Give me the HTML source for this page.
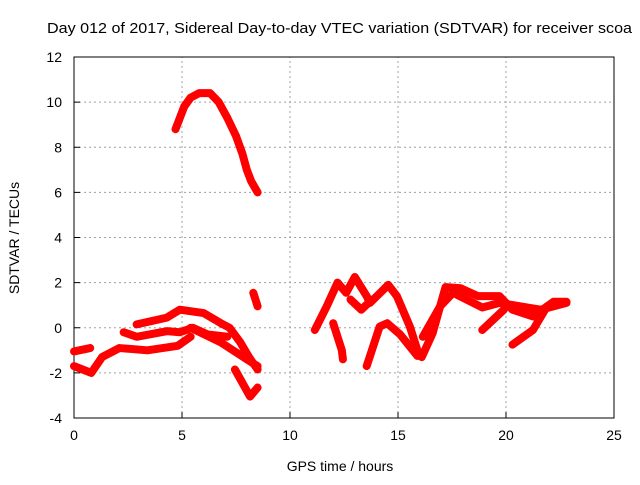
<!DOCTYPE html>
<html><head><meta charset="utf-8"><style>
body{margin:0;background:#fff;}
svg text{font-family:"Liberation Sans",sans-serif;font-size:14px;fill:#000;}
</style></head><body>
<svg id="chart" width="640" height="480" viewBox="0 0 640 480" xmlns="http://www.w3.org/2000/svg">
<rect width="640" height="480" fill="#fff"/>
<text x="47" y="33" textLength="585" lengthAdjust="spacingAndGlyphs" style="font-size:15px">Day 012 of 2017, Sidereal Day-to-day VTEC variation (SDTVAR) for receiver scoa</text>
<g id="grid"></g>
<g id="axes"></g>
<g id="series"></g>
<text x="340" y="471" text-anchor="middle">GPS time / hours</text>
<text transform="translate(19,238) rotate(-90)" text-anchor="middle">SDTVAR / TECUs</text>
</svg>
<script>
const xTicks=[0,5,10,15,20,25];
const yTicks=[-4,-2,0,2,4,6,8,10,12];
const trackArc=[[4.7,8.8],[4.9,9.3],[5.1,9.8],[5.4,10.2],[5.8,10.4],[6.3,10.4],[6.7,10.0],[7.1,9.3],[7.5,8.5],[7.8,7.7],[8.0,7.0],[8.2,6.5],[8.5,6.0]];
const track1=[[5.4,0],[6.8,-0.65],[8.0,-1.4],[8.5,-1.7]];
const track2=[[2.9,0.15],[4.3,0.45],[4.9,0.8],[6.0,0.65],[6.8,0.2],[7.2,0],[7.7,-0.65],[8.1,-1.3],[8.5,-1.85]];
const track3=[[2.3,-0.2],[2.9,-0.4],[4.3,-0.15],[4.9,-0.2],[5.5,0],[6.2,-0.3],[7.1,-0.4]];
const track4=[[0,-1.7],[0.8,-2.0],[1.3,-1.3],[2.1,-0.9],[3.4,-1.0],[4.8,-0.8],[5.4,-0.4]];
const track5=[[0,-1.05],[0.75,-0.9]];
const track6=[[7.45,-1.85],[8.15,-3.05],[8.5,-2.65]];
const track7=[[8.3,1.55],[8.5,0.95]];
const trackR1=[[11.15,-0.1],[11.7,0.95],[12.2,2.0],[12.6,1.55],[13.0,2.25],[13.55,1.4],[13.7,1.1],[14.55,1.9],[14.95,1.4],[15.55,0.05],[15.9,-1.0],[16.1,-1.3],[16.6,-0.25],[17.2,1.8],[17.9,1.75],[18.7,1.4],[19.7,1.4],[20.3,0.8],[21.25,0.5],[22.2,1.15],[22.8,1.15]];
const trackR2=[[12.0,0.2],[12.4,-1.0],[12.45,-1.4]];
const trackR3=[[13.55,-1.7],[14.15,0.05],[14.5,0.2],[15.1,-0.3],[15.9,-1.25]];
const trackR4=[[16.15,-0.4],[16.95,0.95],[17.55,1.55],[18.9,0.9],[19.7,1.1],[21.6,0.8],[22.8,1.1]];
const trackR5=[[18.9,-0.1],[19.9,0.8]];
const trackR6=[[20.3,-0.75],[21.25,-0.1],[21.9,0.95]];
const trackR7=[[12.8,1.25],[13.3,0.8],[13.8,1.25]];
const tracks=[trackArc,track1,track2,track3,track4,track5,track6,track7,trackR1,trackR2,trackR3,trackR4,trackR5,trackR6,trackR7];

const X0=74,X1=614,Y0=418,Y1=57,xmin=0,xmax=25,ymin=-4,ymax=12;
const sx=v=>X0+(v-xmin)/(xmax-xmin)*(X1-X0);
const sy=v=>Y0-(v-ymin)/(ymax-ymin)*(Y0-Y1);
const NS="http://www.w3.org/2000/svg";
function mk(tag,attrs,parent){const e=document.createElementNS(NS,tag);for(const k in attrs)e.setAttribute(k,attrs[k]);parent.appendChild(e);return e;}
const grid=document.getElementById('grid'),axes=document.getElementById('axes'),series=document.getElementById('series');
xTicks.forEach(t=>{
  if(t>xmin&&t<xmax){const l=mk('line',{x1:sx(t),x2:sx(t),y1:Y0,y2:Y1,stroke:'#a0a0a0','stroke-dasharray':'2,3'},grid);
  
  }
  const tk=mk('line',{x1:sx(t),x2:sx(t),y1:Y0,y2:Y0-6,stroke:'#000'},axes);
  
  
  const tx=mk('text',{x:sx(t),y:Y0+22,'text-anchor':'middle'},axes);tx.textContent=t;
  
  
});
yTicks.forEach(t=>{
  if(t>ymin&&t<ymax){const l=mk('line',{x1:X0,x2:X1,y1:sy(t),y2:sy(t),stroke:'#a0a0a0','stroke-dasharray':'2,3'},grid);
  
  }
  const tk=mk('line',{x1:X0,x2:X0+6,y1:sy(t),y2:sy(t),stroke:'#000'},axes);
  
  
  const tx=mk('text',{x:X0-12,y:sy(t)+5,'text-anchor':'end'},axes);tx.textContent=t;
  
  
});
const frame=mk('rect',{x:X0,y:Y1,width:X1-X0,height:Y0-Y1,fill:'none',stroke:'#000'},axes);


tracks.forEach(tr=>{
  const p=mk('polyline',{points:tr.map(d=>sx(d[0])+','+sy(d[1])).join(' '),fill:'none',stroke:'#ff0000','stroke-width':8,'stroke-linejoin':'round','stroke-linecap':'round'},series);
  
  
});
</script>
</body></html>
